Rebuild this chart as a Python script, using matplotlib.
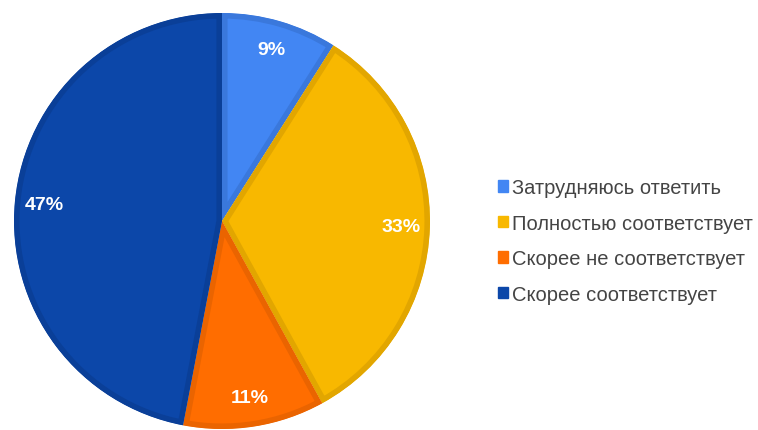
import matplotlib.pyplot as plt
from matplotlib.patches import Patch

plt.rcParams['font.family'] = ['Liberation Sans', 'DejaVu Sans']

labels = ["Затрудняюсь ответить", "Полностью соответствует",
          "Скорее не соответствует", "Скорее соответствует"]
values = [9, 33, 11, 47]
colors = ["#4286f3", "#f8b800", "#ff6d00", "#0c47a9"]
edges = ["#3a78dc", "#e2a600", "#ea6400", "#0a3f98"]

fig = plt.figure(figsize=(7.58, 4.31), dpi=100)
ax = fig.add_axes([14/758, 1/431, 416/758, 416/431])

wedges, texts, autotexts = ax.pie(values, colors=colors, startangle=90, counterclock=False,
                                  autopct="%d%%", pctdistance=0.86,
                                  textprops=dict(color="white", fontsize=14, fontweight="bold"))
for w, e in zip(wedges, edges):
    w.set_edgecolor(e)
    w.set_linewidth(8)
    w.set_clip_on(True)
    w.set_clip_path(w)
ax.set_xlim(-1, 1)
ax.set_ylim(-1, 1)

handles = [Patch(facecolor=c, edgecolor=c) for c in colors]
fig.legend(handles, labels, loc="center left", bbox_to_anchor=(480/758, 1 - 242/431),
           frameon=False, fontsize=14.5, handlelength=0.5, handleheight=0.5,
           handletextpad=0.2, labelspacing=0.82, labelcolor="#444444")

fig.savefig("out.png", dpi=100)
